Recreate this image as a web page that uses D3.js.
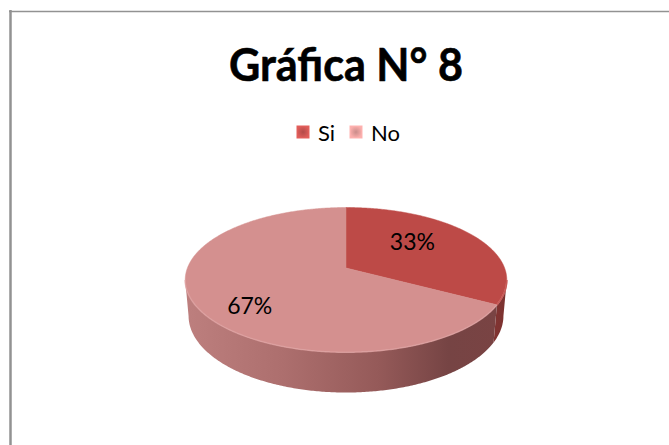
<!DOCTYPE html>
<html><head><meta charset="utf-8">
<script src="https://cdn.jsdelivr.net/npm/d3@7"></script>
<style>html,body{margin:0;padding:0;background:#fff;}svg{display:block;}</style>
</head><body>
<script>
const categories = ["Si", "No"];
const values = [33, 67];
const labels = ["33%", "67%"];
const titleText = "Gráfica N° 8";

const W = 669, H = 445;
const topColors = ["#BD4A47", "#D4908F"];
const legendColors = ["#C0504D", "#D99694"];

const svg = d3.select("body").append("svg").attr("width", W).attr("height", H);
const defs = svg.append("defs");

// frame
svg.append("line").attr("x1", 10.5).attr("x2", 10.5).attr("y1", 10).attr("y2", H).attr("stroke", "#929292").attr("stroke-width", 2.5);
svg.append("line").attr("x1", 9).attr("x2", W).attr("y1", 11.5).attr("y2", 11.5).attr("stroke", "#929292").attr("stroke-width", 1.5);

// title
svg.append("text").attr("x", 346).attr("y", 81).attr("text-anchor", "middle")
  .attr("font-family", "Lato, 'Open Sans', sans-serif").attr("font-weight", "bold")
  .attr("font-size", 45).attr("textLength", 234).attr("lengthAdjust", "spacingAndGlyphs")
  .attr("stroke", "#000").attr("stroke-width", 0.6)
  .attr("fill", "#000").text(titleText);

// legend
const legX = d3.scaleOrdinal().domain(categories).range([297, 350]);
const leg = svg.append("g").selectAll("g").data(categories).join("g")
  .attr("transform", d => `translate(${legX(d)},126)`);
categories.forEach((c, i) => {
  const g = defs.append("radialGradient").attr("id", "lg" + i);
  g.append("stop").attr("offset", "0%").attr("stop-color", d3.color(legendColors[i]).darker(0.2));
  g.append("stop").attr("offset", "100%").attr("stop-color", d3.color(legendColors[i]).brighter(0.4));
});
leg.append("rect").attr("width", 12).attr("height", 12)
  .attr("fill", (d, i) => `url(#lg${i})`).attr("stroke", (d, i) => d3.color(legendColors[i]).brighter(0.5)).attr("stroke-width", 1);
leg.append("text").attr("x", 21).attr("y", 14.5).attr("font-family", "Lato, 'Open Sans', sans-serif")
  .attr("font-size", 22).attr("fill", "#000").text(d => d);

// 3D pie with perspective projection
const cx = 346, cy = 268;
const S = 866, D = 5.46, sinT = 0.444, cosT = 0.896, Hd = 0.255;
function proj(X, Y, Z) {
  const depth = D + Y * cosT - Z * sinT;
  return [cx + S * X / depth, cy - S * (Y * sinT + Z * cosT) / depth];
}
function rim(a, z) { return proj(Math.sin(a), Math.cos(a), z); }
function arcPts(a0, a1, z) {
  const n = Math.max(2, Math.ceil(Math.abs(a1 - a0) / 0.01));
  return d3.range(n + 1).map(k => rim(a0 + (a1 - a0) * k / n, z));
}
const pie = d3.pie().sort(null).value(d => d);
const arcs = pie(values);
const line = d3.line();

// side gradient
const sideG = defs.append("linearGradient").attr("id", "sideL").attr("gradientUnits", "userSpaceOnUse")
  .attr("x1", 186).attr("x2", 506).attr("y1", 0).attr("y2", 0);
[[0, "#bd7f7e"], [0.3, "#ad6f6e"], [0.6, "#955a59"], [0.82, "#764444"], [1, "#7a4343"]]
  .forEach(([o, c]) => sideG.append("stop").attr("offset", o).attr("stop-color", c));
const sideD = defs.append("linearGradient").attr("id", "sideD").attr("gradientUnits", "userSpaceOnUse")
  .attr("x1", 470).attr("x2", 506).attr("y1", 0).attr("y2", 0);
[[0, "#8a3634"], [1, "#7c3230"]].forEach(([o, c]) => sideD.append("stop").attr("offset", o).attr("stop-color", c));
const sideFill = ["url(#sideD)", "url(#sideL)"];

const aMin = Math.acos(-cosT / D), aMax = 2 * Math.PI - aMin;
const pieG = svg.append("g");
arcs.forEach((a, i) => {
  const s0 = Math.max(a.startAngle, aMin), s1 = Math.min(a.endAngle, aMax);
  if (s1 > s0) {
    const pts = arcPts(s0, s1, 0).concat(arcPts(s1, s0, -Hd));
    pieG.append("path").attr("d", line(pts) + "Z").attr("fill", sideFill[i]);
  }
});
// top faces
arcs.forEach((a, i) => {
  const pts = [proj(0, 0, 0)].concat(arcPts(a.startAngle, a.endAngle, 0));
  pieG.append("path").attr("d", line(pts) + "Z").attr("fill", topColors[i])
    .attr("stroke", topColors[i]).attr("stroke-width", 0.5);
});
// subtle rim highlight on front edge
pieG.append("path").attr("d", line(arcPts(aMin, aMax, 0)))
  .attr("fill", "none").attr("stroke", "#dea3a2").attr("stroke-width", 1.5).attr("opacity", 0.7);
pieG.append("path").attr("d", line(arcPts(aMin, arcs[0].endAngle, 0)))
  .attr("fill", "none").attr("stroke", "#c85a57").attr("stroke-width", 1.5);

// labels
const total = d3.sum(values);
arcs.forEach((a, i) => {
  const mid = (a.startAngle + a.endAngle) / 2 - 0.19;
  const k = 0.45 + 0.44 * (a.value / total);
  const p = proj(k * Math.sin(mid), k * Math.cos(mid), 0);
  svg.append("text").attr("x", p[0]).attr("y", p[1] + 8).attr("text-anchor", "middle")
    .attr("font-family", "Lato, 'Open Sans', sans-serif").attr("font-size", 23).attr("fill", "#000")
    .text(labels[i]);
});
</script>
</body></html>
